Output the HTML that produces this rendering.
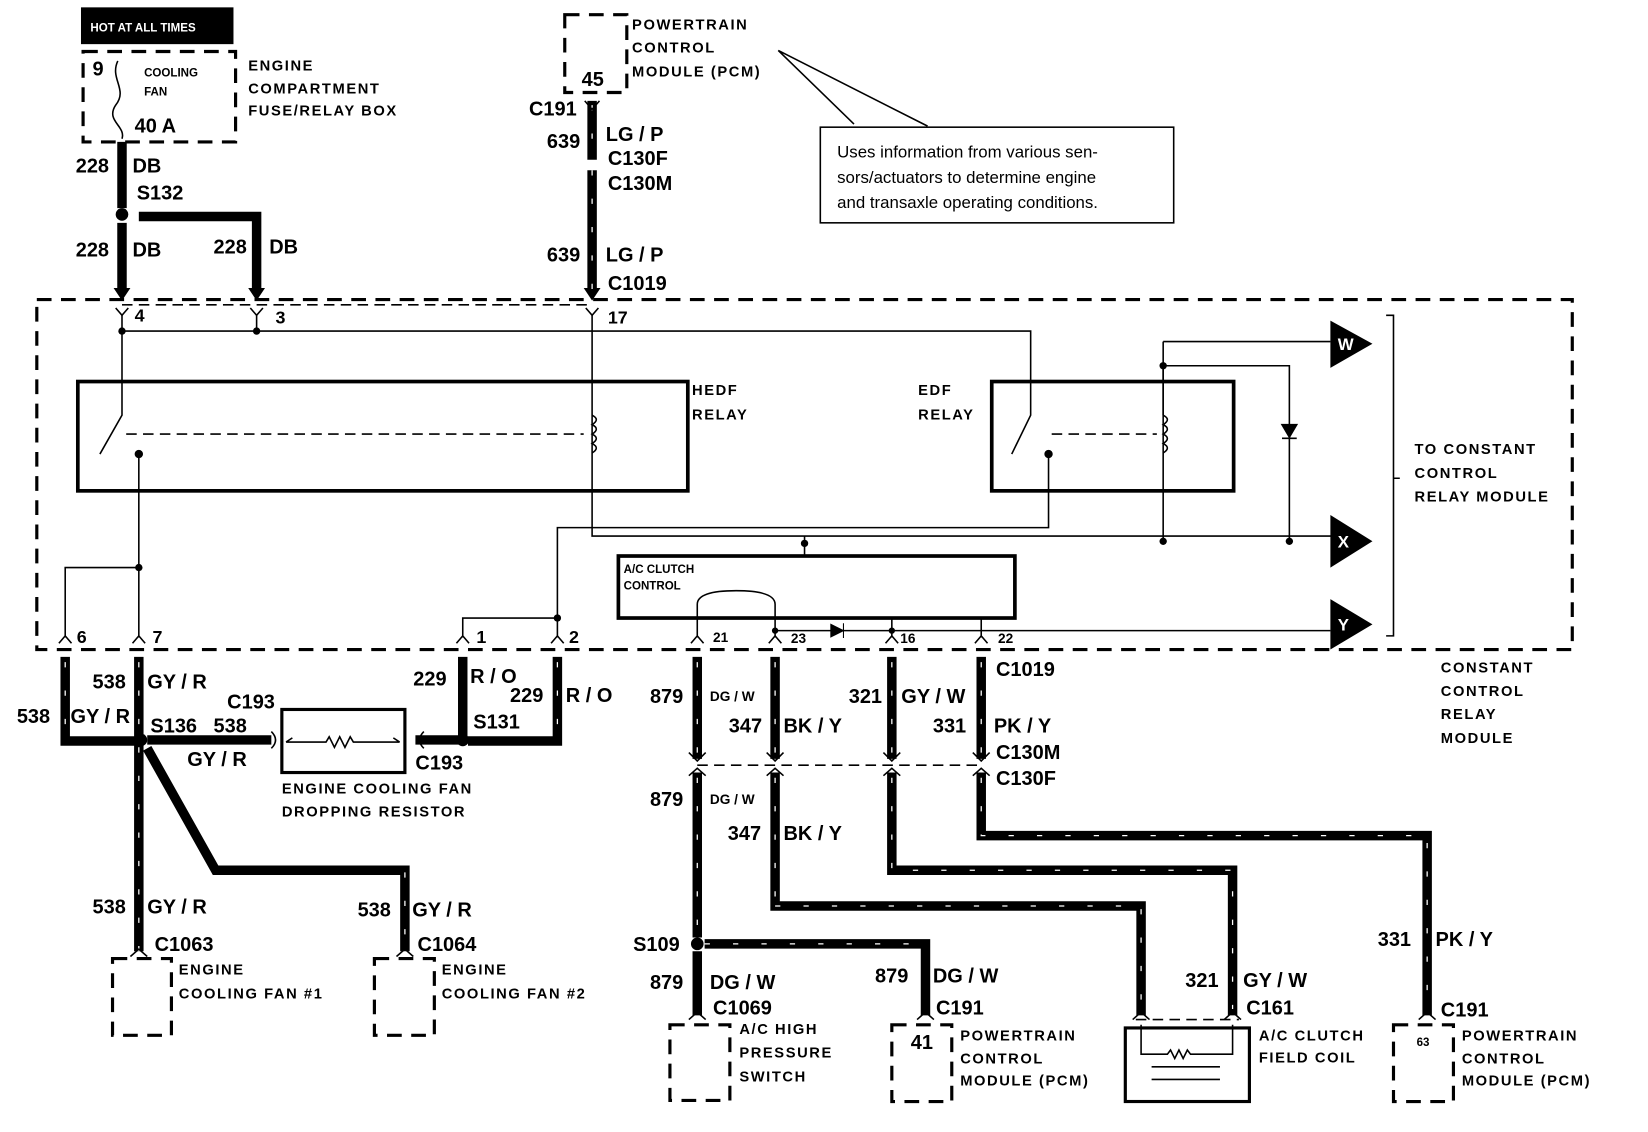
<!DOCTYPE html>
<html><head><meta charset="utf-8"><style>
html,body{margin:0;padding:0;background:#fff;}
svg{display:block;}
text{font-family:"Liberation Sans",sans-serif;font-weight:bold;fill:#000;}
.l{font-size:19px;}
.s{font-size:14px;letter-spacing:1.5px;}
.t{font-size:11px;}
.w{stroke:#000;stroke-width:9;fill:none;}
.wd{stroke:#fff;stroke-width:1.2;stroke-dasharray:5 22;fill:none;}
.n{stroke:#000;stroke-width:1.5;fill:none;}
.d{stroke:#000;stroke-width:3;stroke-dasharray:14 9;fill:none;}
.dt{stroke:#000;stroke-width:1.5;stroke-dasharray:10 6;fill:none;}
</style></head><body>
<svg width="1648" height="1132" viewBox="0 0 1567 1077" preserveAspectRatio="none" xmlns="http://www.w3.org/2000/svg">
<rect x="77" y="7" width="145" height="35" fill="#000"/>
<text x="86" y="30" class="t" style="fill:#fff">HOT AT ALL TIMES</text>
<rect x="79" y="49" width="145" height="86" class="d"/>
<path d="M112 58 C104 75 122 85 110 100 C100 115 120 120 116 132" class="n" stroke-width="2.5"/>
<text x="88" y="72" class="l">9</text>
<text x="137" y="73" class="t">COOLING</text><text x="137" y="91" class="t">FAN</text>
<text x="128" y="126" class="l">40 A</text>
<text x="236" y="67" class="s">ENGINE</text><text x="236" y="89" class="s">COMPARTMENT</text><text x="236" y="110" class="s">FUSE/RELAY BOX</text>
<path d="M116 135 V198 M116 212 V278 M132 206 H244 V278" class="w"/>
<circle cx="116" cy="204" r="6"/>
<text x="72" y="164" class="l">228</text><text x="126" y="164" class="l">DB</text><text x="130" y="190" class="l">S132</text>
<text x="72" y="244" class="l">228</text><text x="126" y="244" class="l">DB</text>
<text x="203" y="241" class="l">228</text><text x="256" y="241" class="l">DB</text>
<path d="M108 274 L116 286 L124 274 Z M236 274 L244 286 L252 274 Z M555 274 L563 286 L571 274 Z"/>
<path d="M116 290 H563" class="dt"/>
<rect x="537" y="14" width="59" height="74" class="d"/>
<text x="553" y="82" class="l">45</text>
<text x="601" y="28" class="s">POWERTRAIN</text><text x="601" y="50" class="s">CONTROL</text><text x="601" y="73" class="s">MODULE (PCM)</text>
<text x="503" y="110" class="l">C191</text>
<path d="M563 96 V152 M563 162 V278" class="w"/>
<path d="M563 100 V152 M563 162 V278" class="wd"/>
<path d="M556 96 L563 104 L570 96"  class="n" stroke-width="3"/>
<text x="520" y="141" class="l">639</text><text x="576" y="134" class="l">LG / P</text>
<text x="578" y="157" class="l">C130F</text><text x="578" y="181" class="l">C130M</text>
<text x="520" y="249" class="l">639</text><text x="576" y="249" class="l">LG / P</text><text x="578" y="276" class="l">C1019</text>
<path d="M740 48 L812 118 M740 48 L882 120" class="n"/>
<rect x="780" y="121" width="336" height="91" class="n" stroke-width="2"/>
<text x="796" y="150" style="font-size:16px;font-weight:normal">Uses information from various sen-</text>
<text x="796" y="174" style="font-size:16px;font-weight:normal">sors/actuators to determine engine</text>
<text x="796" y="198" style="font-size:16px;font-weight:normal">and transaxle operating conditions.</text>
<rect x="35" y="285" width="1460" height="333" class="d"/>
<text x="128" y="306" class="l" style="font-size:17px">4</text><text x="262" y="308" class="l" style="font-size:17px">3</text><text x="578" y="308" class="l" style="font-size:17px">17</text>
<path d="M110 293 L116 300 L122 293 M238 293 L244 300 L250 293 M557 293 L563 300 L569 293" class="n"/>
<path d="M116 300 V395 L95 432 M244 300 V315 M116 315 H980 V395 L962 432 M563 300 V510 H1270 M132 432 V605 M132 540 H62 V605" class="n"/>
<circle cx="116" cy="315" r="3.5"/><circle cx="244" cy="315" r="3.5"/>
<circle cx="132" cy="432" r="4"/><circle cx="997" cy="432" r="4"/><circle cx="132" cy="540" r="3.5"/>
<path d="M120 413 H555 M1000 413 H1100" class="dt"/>
<path d="M563 395 q8 4 0 9 q8 4 0 9 q8 4 0 9 q8 4 0 9 M1106 395 q8 4 0 9 q8 4 0 9 q8 4 0 9 q8 4 0 9" class="n"/>
<rect x="74" y="363" width="580" height="104" fill="none" stroke="#000" stroke-width="3.5"/>
<text x="658" y="376" class="s">HEDF</text><text x="658" y="399" class="s">RELAY</text>
<rect x="943" y="363" width="230" height="104" fill="none" stroke="#000" stroke-width="3.5"/>
<text x="873" y="376" class="s">EDF</text><text x="873" y="399" class="s">RELAY</text>
<path d="M997 432 V502 H530 V588 M440 605 V588 H530 V605 M1106 325 H1265 M1106 348 V515 M1106 348 H1226 V515 M765 510 V529" class="n"/>
<circle cx="1106" cy="348" r="3.5"/><circle cx="1106" cy="515" r="3.5"/><circle cx="1226" cy="515" r="3.5"/><circle cx="765" cy="517" r="3.5"/><circle cx="530" cy="588" r="3.5"/>
<path d="M1106 395 V325" class="n"/>
<path d="M1219 404 L1233 404 L1226 416 Z M1219 417 H1233" fill="#000" stroke="#000" stroke-width="1.5"/>
<path d="M1265 305 L1305 327 L1265 350 Z M1265 490 L1305 515 L1265 540 Z M1265 570 L1305 594 L1265 618 Z"/>
<text x="1272" y="333" style="font-size:16px;fill:#fff" class="l">W</text>
<text x="1272" y="521" style="font-size:16px;fill:#fff" class="l">X</text>
<text x="1272" y="600" style="font-size:16px;fill:#fff" class="l">Y</text>
<path d="M1318 300 H1325 V605 H1318 M1325 455 H1331" class="n" stroke-width="2.5"/>
<text x="1345" y="432" class="s">TO CONSTANT</text><text x="1345" y="455" class="s">CONTROL</text><text x="1345" y="477" class="s">RELAY MODULE</text>
<rect x="588" y="529" width="377" height="59" fill="none" stroke="#000" stroke-width="3.5"/>
<text x="593" y="545" class="t">A/C CLUTCH</text><text x="593" y="561" class="t">CONTROL</text>
<path d="M663 600 V575 Q663 562 700 562 Q737 562 737 575 V600 M737 600 H1265 M848 588 V605 M933 588 V605 M663 588 V605 M737 588 V605" class="n"/>
<path d="M790 594 L802 600 L790 606 Z M802 593 V607" fill="#000" stroke="#000"/>
<circle cx="737" cy="600" r="3"/><circle cx="848" cy="600" r="3"/>
<path d="M56 612 L62 605 L68 612 M126 612 L132 605 L138 612 M434 612 L440 605 L446 612 M524 612 L530 605 L536 612 M657 612 L663 605 L669 612 M731 612 L737 605 L743 612 M842 612 L848 605 L854 612 M927 612 L933 605 L939 612" class="n"/>
<text x="73" y="612" class="l" style="font-size:17px">6</text><text x="145" y="612" class="l" style="font-size:17px">7</text>
<text x="453" y="612" class="l" style="font-size:17px">1</text><text x="541" y="612" class="l" style="font-size:17px">2</text>
<text x="678" y="611" class="t" style="font-size:13px">21</text><text x="752" y="612" class="t" style="font-size:13px">23</text>
<text x="856" y="612" class="t" style="font-size:13px">16</text><text x="949" y="612" class="t" style="font-size:13px">22</text>
<text x="1370" y="640" class="s">CONSTANT</text><text x="1370" y="662" class="s">CONTROL</text><text x="1370" y="684" class="s">RELAY</text><text x="1370" y="707" class="s">MODULE</text>
<g>
<path d="M62 625 V705 H132 M132 625 V905 M140 704 H258 M140 712 L205 828 H385 V905 M395 704 H440 M440 625 V705 M530 625 V705 H445" class="w"/>
<path d="M62 630 V700 M132 630 V905 M385 830 V905 M530 630 V700" class="wd"/>
</g>
<circle cx="134" cy="704" r="6"/><circle cx="440" cy="704" r="6"/>
<path d="M258 696 Q266 704 258 712 M403 696 Q395 704 403 712" class="n" stroke-width="3"/>
<rect x="268" y="675" width="117" height="60" fill="none" stroke="#000" stroke-width="3"/>
<path d="M272 706 H310 l3 -5 l5 10 l5 -10 l5 10 l5 -10 l3 5 H380 M272 706 l6 -4 M380 706 l-6 -4" class="n"/>
<text x="88" y="655" class="l">538</text><text x="140" y="655" class="l">GY / R</text>
<text x="16" y="688" class="l">538</text><text x="67" y="688" class="l">GY / R</text>
<text x="143" y="697" class="l">S136</text><text x="203" y="697" class="l">538</text><text x="216" y="674" class="l">C193</text>
<text x="178" y="729" class="l">GY / R</text>
<text x="393" y="652" class="l">229</text><text x="447" y="650" class="l">R / O</text>
<text x="485" y="668" class="l">229</text><text x="538" y="668" class="l">R / O</text>
<text x="450" y="693" class="l">S131</text><text x="395" y="732" class="l">C193</text>
<text x="268" y="755" class="s">ENGINE COOLING FAN</text><text x="268" y="777" class="s">DROPPING RESISTOR</text>
<text x="88" y="869" class="l">538</text><text x="140" y="869" class="l">GY / R</text>
<text x="340" y="872" class="l">538</text><text x="392" y="872" class="l">GY / R</text>
<text x="147" y="905" class="l">C1063</text><text x="397" y="905" class="l">C1064</text>
<path d="M124 910 L132 903 L140 910 M377 910 L385 903 L393 910" class="n" stroke-width="3"/>
<rect x="107" y="912" width="56" height="73" class="d"/><rect x="356" y="912" width="57" height="73" class="d"/>
<text x="170" y="927" class="s">ENGINE</text><text x="170" y="950" class="s">COOLING FAN #1</text>
<text x="420" y="927" class="s">ENGINE</text><text x="420" y="950" class="s">COOLING FAN #2</text>
<path d="M663 625 V722 M663 735 V892 M737 625 V722 M737 735 V862 H1085 V966 M848 625 V722 M848 735 V828 H1172 V966 M933 625 V722 M933 735 V795 H1357 V966 M670 898 H880 V966 M663 905 V966" class="w"/>
<path d="M663 630 V720 M663 740 V890 M737 630 V720 M737 740 V860 M848 630 V720 M933 630 V720 M933 740 V795 H1357 V960 M848 740 V828 H1172 V960 M737 862 H1085 V960 M670 898 H880" class="wd"/>
<path d="M663 728 H933" class="dt"/>
<path d="M655 716 L663 724 L671 716 M729 716 L737 724 L745 716 M840 716 L848 724 L856 716 M925 716 L933 724 L941 716 M655 738 L663 731 L671 738 M729 738 L737 731 L745 738 M840 738 L848 731 L856 738 M925 738 L933 731 L941 738" class="n" stroke-width="3"/>
<circle cx="663" cy="898" r="6"/>
<text x="618" y="669" class="l">879</text><text x="675" y="667" class="t" style="font-size:13px">DG / W</text>
<text x="693" y="697" class="l">347</text><text x="745" y="697" class="l">BK / Y</text>
<text x="807" y="669" class="l">321</text><text x="857" y="669" class="l">GY / W</text>
<text x="887" y="697" class="l">331</text><text x="945" y="697" class="l">PK / Y</text>
<text x="947" y="643" class="l">C1019</text><text x="947" y="722" class="l">C130M</text><text x="947" y="747" class="l">C130F</text>
<text x="618" y="767" class="l">879</text><text x="675" y="765" class="t" style="font-size:13px">DG / W</text>
<text x="692" y="799" class="l">347</text><text x="745" y="799" class="l">BK / Y</text>
<text x="602" y="905" class="l">S109</text>
<text x="618" y="941" class="l">879</text><text x="675" y="941" class="l">DG / W</text><text x="678" y="965" class="l">C1069</text>
<text x="832" y="935" class="l">879</text><text x="887" y="935" class="l">DG / W</text><text x="890" y="965" class="l">C191</text>
<text x="1127" y="939" class="l">321</text><text x="1182" y="939" class="l">GY / W</text><text x="1185" y="965" class="l">C161</text>
<text x="1310" y="900" class="l">331</text><text x="1365" y="900" class="l">PK / Y</text><text x="1370" y="967" class="l">C191</text>
<path d="M655 970 L663 963 L671 970 M872 970 L880 963 L888 970 M1077 970 L1085 963 L1093 970 M1164 970 L1172 963 L1180 970 M1349 970 L1357 963 L1365 970" class="n" stroke-width="3"/>
<path d="M1080 970 H1178" class="dt"/>
<rect x="637" y="975" width="57" height="72" class="d"/>
<text x="703" y="984" class="s">A/C HIGH</text><text x="703" y="1006" class="s">PRESSURE</text><text x="703" y="1029" class="s">SWITCH</text>
<rect x="848" y="975" width="57" height="73" class="d"/>
<text x="866" y="998" class="l">41</text>
<text x="913" y="990" class="s">POWERTRAIN</text><text x="913" y="1012" class="s">CONTROL</text><text x="913" y="1033" class="s">MODULE (PCM)</text>
<rect x="1070" y="978" width="118" height="70" fill="none" stroke="#000" stroke-width="3"/>
<path d="M1085 975 V1003 H1110 l3 -4 l4 8 l4 -8 l4 8 l4 -8 l3 4 H1172 V975 M1095 1015 H1160 M1095 1027 H1160" class="n"/>
<text x="1197" y="990" class="s">A/C CLUTCH</text><text x="1197" y="1011" class="s">FIELD COIL</text>
<rect x="1325" y="975" width="57" height="73" class="d"/>
<text x="1347" y="995" class="t">63</text>
<text x="1390" y="990" class="s">POWERTRAIN</text><text x="1390" y="1012" class="s">CONTROL</text><text x="1390" y="1033" class="s">MODULE (PCM)</text>
</svg>
</body></html>
